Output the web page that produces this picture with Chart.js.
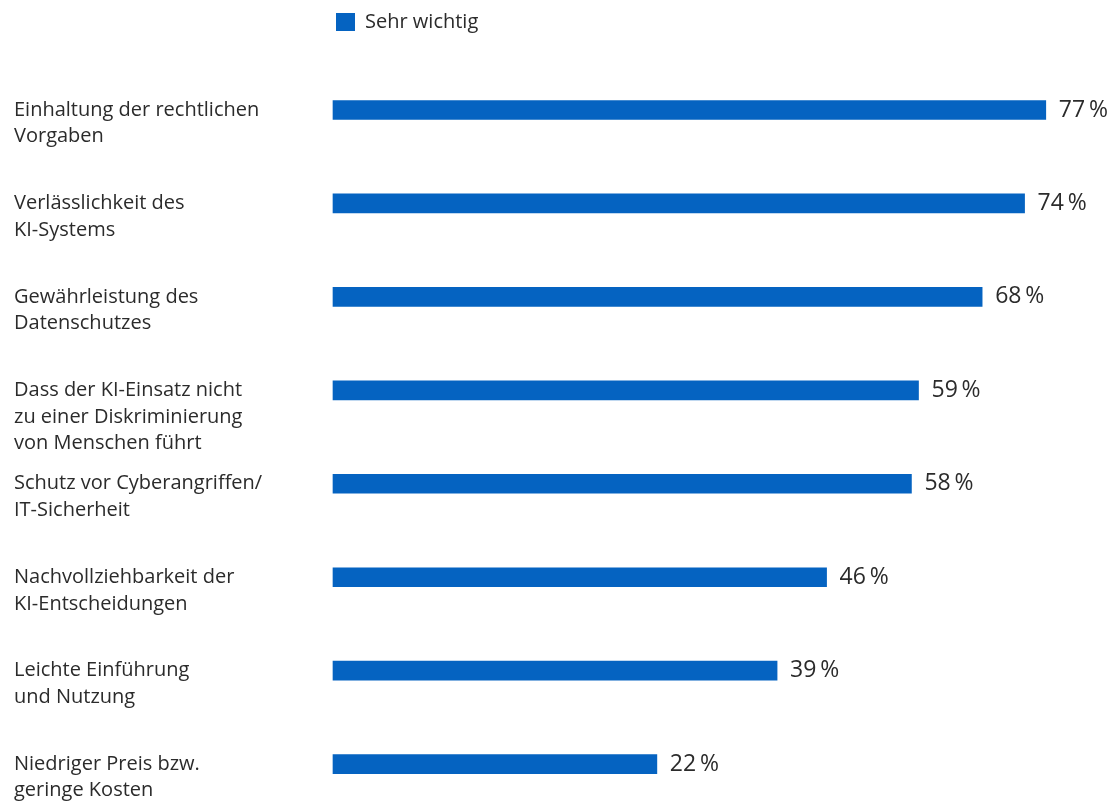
<!DOCTYPE html>
<html lang="de">
<head>
<meta charset="utf-8">
<title>Sehr wichtig</title>
<script src="https://cdn.jsdelivr.net/npm/chart.js@4"></script>
<style>
  html, body { margin: 0; padding: 0; background: #fff; }
  #wrap { width: 1118px; height: 807px; position: relative; }
</style>
</head>
<body>
<div id="wrap"><canvas id="chart"></canvas></div>
<script>
const categories = [
    ["Einhaltung der rechtlichen", "Vorgaben"],
    ["Verlässlichkeit des", "KI-Systems"],
    ["Gewährleistung des", "Datenschutzes"],
    ["Dass der KI-Einsatz nicht", "zu einer Diskriminierung", "von Menschen führt"],
    ["Schutz vor Cyberangriffen/", "IT-Sicherheit"],
    ["Nachvollziehbarkeit der", "KI-Entscheidungen"],
    ["Leichte Einführung", "und Nutzung"],
    ["Niedriger Preis bzw.", "geringe Kosten"],
];
const sehrWichtig = [77, 74, 68, 59, 58, 46, 39, 22];
const seriesName = "Sehr wichtig";

const blue = "#0563c1";
const textColor = "#2b2b2b";
const fontFamily = "'Open Sans', 'Noto Sans', sans-serif";
const axisMin = -23.8;

// first line of each label sits level with its bar: pad with blank lines above
const yLabels = categories.map(lines => Array(lines.length - 1).fill("").concat(lines));

// push the plot area down below the legend
const legendSpacing = {
    id: "legendSpacing",
    beforeInit(chart) {
        const fit = chart.legend.fit;
        chart.legend.fit = function () {
            fit.bind(chart.legend)();
            this.height += 68;
        };
    },
};

// percentage labels to the right of the bars
const valueLabels = {
    id: "valueLabels",
    afterDatasetsDraw(chart) {
        const ctx = chart.ctx;
        const meta = chart.getDatasetMeta(0);
        ctx.save();
        ctx.font = "23px " + fontFamily;
        ctx.fillStyle = textColor;
        ctx.textAlign = "left";
        ctx.textBaseline = "middle";
        meta.data.forEach((bar, i) => {
            ctx.fillText(sehrWichtig[i] + "\u2009%", bar.x + 13, bar.y);
        });
        ctx.restore();
    },
};

new Chart(document.getElementById("chart"), {
    type: "bar",
    data: {
        labels: yLabels,
        datasets: [
            {
                label: seriesName,
                data: sehrWichtig,
                backgroundColor: blue,
                borderWidth: 0,
                barThickness: 19,
                base: axisMin,
                clip: false,
            },
        ],
    },
    options: {
        indexAxis: "y",
        responsive: true,
        maintainAspectRatio: false,
        animation: false,
        layout: { padding: { top: 9, left: 14, right: 51, bottom: 38.5 } },
        scales: {
            x: {
                display: false,
                min: axisMin,
                max: 80,
            },
            y: {
                offset: false,
                grid: { display: false },
                border: { display: false },
                ticks: {
                    crossAlign: "far",
                    color: textColor,
                    font: { family: fontFamily, size: 20, lineHeight: 1.33 },
                    autoSkip: false,
                },
                afterFit(scale) {
                    scale.width = 319;
                },
            },
        },
        plugins: {
            legend: {
                position: "top",
                align: "start",
                fullSize: false,
                labels: {
                    boxWidth: 19,
                    boxHeight: 18,
                    padding: 3,
                    color: textColor,
                    font: { family: fontFamily, size: 20 },
                },
            },
            tooltip: { enabled: false },
        },
    },
    plugins: [legendSpacing, valueLabels],
});
</script>
</body>
</html>
